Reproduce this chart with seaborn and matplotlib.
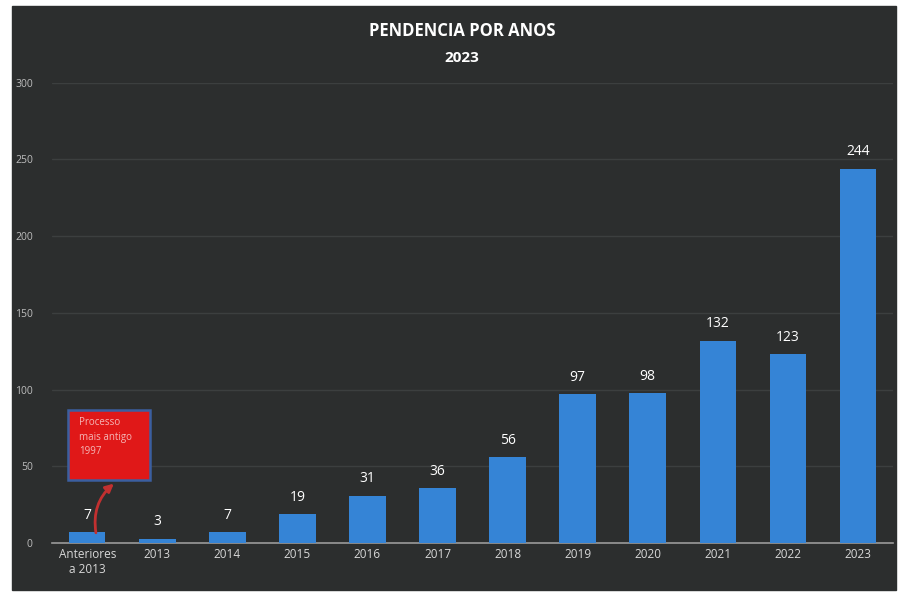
import matplotlib
matplotlib.use("Agg")
import matplotlib.pyplot as plt
from matplotlib.patches import Rectangle
import seaborn as sns
import pandas as pd

# chart data
categories = ["Anteriores\na 2013", "2013", "2014", "2015", "2016", "2017",
              "2018", "2019", "2020", "2021", "2022", "2023"]
pendentes = [7, 3, 7, 19, 31, 36, 56, 97, 98, 132, 123, 244]
y_ticks = [0, 50, 100, 150, 200, 250, 300]

BG = "#2c2e2e"
BAR = "#3584d6"
TXT = "#d8d8d8"

sns.set_theme(style="dark")
plt.rcParams['font.family'] = ['Open Sans', 'DejaVu Sans']

df = pd.DataFrame({"ano": categories, "n": pendentes})

fig = plt.figure(figsize=(9.01, 5.95), dpi=100, facecolor="white")
# dark panel of the scanned chart, kept behind the axes
fig.patches.append(Rectangle((12 / 901, 5 / 595), 884 / 901, 584 / 595,
                             transform=fig.transFigure, color=BG, zorder=-5))

ax = fig.add_axes([0.058, 0.087, 0.933, 0.774])
ax.set_facecolor(BG)
ax.patch.set_alpha(0)

sns.barplot(data=df, x="ano", y="n", color=BAR, width=0.52, ax=ax,
            saturation=1, linewidth=0, zorder=3)

ax.set_ylim(0, 300)
ax.set_yticks(y_ticks)
ax.set_xlim(-0.5, len(categories) - 0.5)
ax.yaxis.grid(True, color="#3c3f3f", lw=1)
ax.xaxis.grid(False)
for s in ["top", "right", "left"]:
    ax.spines[s].set_visible(False)
ax.spines["bottom"].set_color("#9a9a9a")
ax.spines["bottom"].set_linewidth(1.2)
ax.tick_params(axis="both", colors=TXT, labelsize=8.5, length=0)
ax.tick_params(axis="y", labelcolor="#bdbdbd", labelsize=7.5, pad=14)
ax.set_xlabel("")
ax.set_ylabel("")

for i, v in enumerate(pendentes):
    ax.text(i, v + 6, str(v), ha="center", va="bottom", color="white",
            fontsize=10, zorder=4)

fig.text(0.513, 0.948, "PENDENCIA POR ANOS", ha="center", va="center",
         color="white", fontsize=12, fontweight="bold")
fig.text(0.513, 0.903, "2023", ha="center", va="center",
         color="white", fontsize=11, fontweight="bold")

# red call-out box
ax.add_patch(Rectangle((-0.27, 41), 1.17, 46, fc="#e01818", ec="#3b5fa0",
                       lw=1.8, zorder=6, clip_on=False))
ax.text(-0.12, 82, "Processo\nmais antigo\n1997", color="#f4b6b6",
        fontsize=7, va="top", ha="left", linespacing=1.4, zorder=7)
ax.annotate("", xy=(0.41, 40), xytext=(0.13, 5),
            arrowprops=dict(arrowstyle="-|>", color="#c23030", lw=2,
                            connectionstyle="arc3,rad=-0.3"), zorder=6)

fig.savefig("out.png", dpi=100, facecolor="white")
